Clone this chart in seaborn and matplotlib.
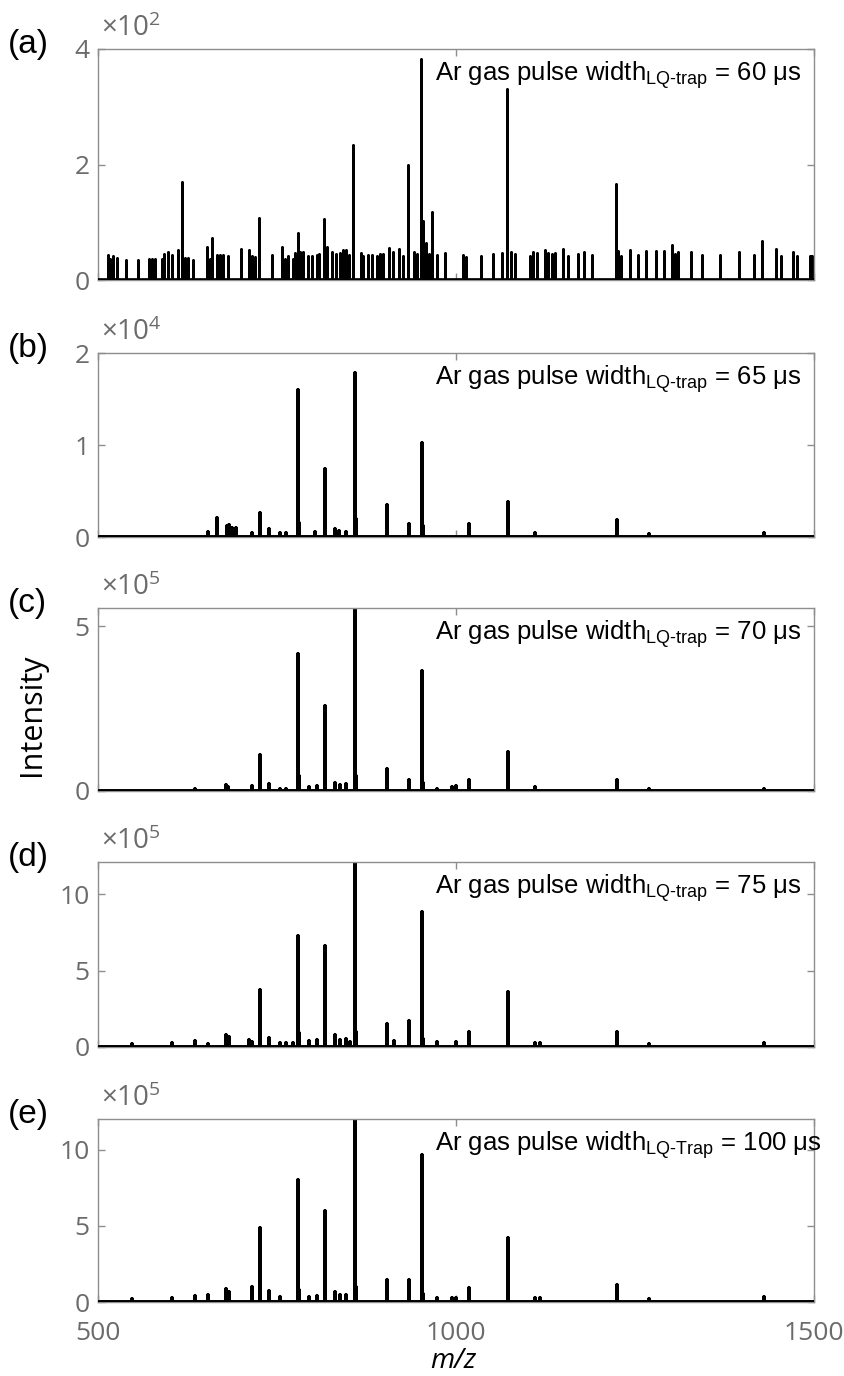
import matplotlib
matplotlib.use("Agg")
import matplotlib.pyplot as plt
import seaborn as sns
import pandas as pd

# ---------------- data ----------------
mz_a = [513.5, 516.8, 521.4, 526, 538.6, 555.4, 571, 575, 579, 588.9, 592.6, 598.2, 602.9, 612.2,
        617.8, 621.5, 625.2, 632.2, 651.8, 656.4, 659.7, 665.7, 670, 674, 681, 699.3, 710.9, 714.6,
        719.3, 725.3, 742.6, 757.5, 761.2, 765.8, 772.8, 775.1, 778.9, 782.1, 786.8, 792.8, 798.4,
        805.4, 808.6, 816.1, 819.3, 827.2, 831.9, 837.9, 842.6, 846.4, 851, 856.6, 866.8, 869.6,
        877.6, 882.2, 889.2, 893.9, 898.5, 906.9, 912.5, 920.9, 926.5, 933.5, 941.4, 946, 951.6,
        954.4, 958.1, 962.8, 967, 973, 984.7, 1009.4, 1014, 1034.5, 1051.2, 1064.7, 1070.8, 1076.4,
        1082.4, 1103.4, 1108, 1112.7, 1124.3, 1129, 1133.6, 1138.3, 1149.9, 1156, 1169.7, 1179.2,
        1190.4, 1222.8, 1226.6, 1230.3, 1242.8, 1253.5, 1265.2, 1279.1, 1290.8, 1302, 1305.7,
        1310.3, 1328.9, 1342.9, 1368.5, 1395, 1416, 1427.6, 1446.7, 1454.6, 1470, 1475.6, 1495.1,
        1497.9]
int_a = [0.43, 0.37, 0.42, 0.38, 0.35, 0.34, 0.37, 0.37, 0.37, 0.37, 0.45, 0.48, 0.43, 0.52,
         1.69, 0.38, 0.38, 0.35, 0.57, 0.37, 0.73, 0.43, 0.43, 0.43, 0.41, 0.53, 0.52, 0.42,
         0.39, 1.08, 0.44, 0.57, 0.37, 0.41, 0.37, 0.47, 0.82, 0.49, 0.48, 0.42, 0.41,
         0.43, 0.45, 1.06, 0.57, 0.48, 0.45, 0.47, 0.52, 0.52, 0.43, 2.33, 0.47, 0.42,
         0.43, 0.43, 0.41, 0.45, 0.45, 0.56, 0.49, 0.54, 0.42, 1.99, 0.48, 0.45, 3.83,
         1.03, 0.64, 0.45, 1.17, 0.43, 0.47, 0.44, 0.39, 0.42, 0.45, 0.46, 3.31, 0.48,
         0.45, 0.42, 0.48, 0.47, 0.52, 0.47, 0.45, 0.47, 0.54, 0.42, 0.45, 0.48,
         0.43, 1.66, 0.51, 0.42, 0.52, 0.43, 0.50, 0.51, 0.51, 0.61, 0.45,
         0.48, 0.48, 0.43, 0.44, 0.49, 0.44, 0.68, 0.53, 0.41, 0.49, 0.42, 0.42,
         0.42]

mz_b = [654, 665.8, 680, 683, 687, 692.5, 714.6, 726, 739, 753.6, 763, 779.6, 781, 803.6, 817.3,
        831.6, 836.8, 846.6, 858.3, 860, 903.8, 934.3, 952.5, 954, 1018.2, 1072.2, 1111, 1225,
        1270, 1429.8]
int_b = [0.05, 0.21, 0.12, 0.13, 0.10, 0.10, 0.04, 0.26, 0.09, 0.04, 0.04, 1.60, 0.15, 0.05, 0.74,
         0.09, 0.06, 0.05, 1.78, 0.20, 0.35, 0.14, 1.02, 0.12, 0.14, 0.38, 0.04, 0.18,
         0.03, 0.04]

mz_c = [635, 678.8, 682, 714.6, 726.3, 739.3, 753.6, 763, 779.6, 781, 794.5, 805.6, 817.3, 831.6,
        838, 846.6, 858.3, 860, 903.8, 934.3, 952.5, 954, 973, 994, 1000.6, 1018.2, 1072.2, 1111,
        1225, 1270, 1429.8]
int_c = [0.07, 0.17, 0.12, 0.16, 1.08, 0.20, 0.07, 0.07, 4.15, 0.45, 0.12, 0.14, 2.57, 0.24,
         0.17, 0.20, 5.56, 0.45, 0.67, 0.33, 3.64, 0.25, 0.07, 0.12, 0.14, 0.33, 1.18, 0.12,
         0.33, 0.06, 0.06]

mz_d = [547.5, 602.7, 635, 654, 678.8, 683, 711, 714.6, 726.3, 739.3, 753.6, 763, 772, 779.6, 781,
        794.5, 805.6, 817.3, 831.6, 838, 846.6, 852, 858.3, 860, 903.8, 914, 934.3, 952.5, 954,
        973, 1000.6, 1018.2, 1072.2, 1111, 1118, 1225, 1270, 1429.8]
int_d = [0.17, 0.26, 0.37, 0.22, 0.76, 0.65, 0.48, 0.33, 3.74, 0.59, 0.26, 0.26, 0.26, 7.28, 0.93,
         0.39, 0.43, 6.59, 0.80, 0.43, 0.54, 0.33, 12.1, 1.0, 1.52, 0.37, 1.70, 8.8, 0.5,
         0.33, 0.33, 0.98, 3.63, 0.28, 0.26, 0.98, 0.22, 0.28]

mz_e = [547.5, 602.7, 635, 654, 678.8, 683, 714.6, 726.3, 739.3, 753.6, 779.6, 781, 794.5, 805.6,
        817.3, 831.6, 838, 846.6, 858.3, 860, 903.8, 934.3, 952.5, 954, 973, 994, 1000.6, 1018.2,
        1072.2, 1111, 1118, 1225, 1270, 1429.8]
int_e = [0.22, 0.28, 0.39, 0.48, 0.83, 0.65, 0.98, 4.85, 0.72, 0.30, 7.98, 0.8, 0.33, 0.39,
         5.98, 0.65, 0.43, 0.48, 12.0, 1.0, 1.41, 1.41, 9.65, 0.5, 0.26, 0.28, 0.28, 0.93,
         4.2, 0.26, 0.26, 1.09, 0.22, 0.33]

panel_letters = ["(a)", "(b)", "(c)", "(d)", "(e)"]
exponents = [2, 4, 5, 5, 5]
pulse_widths = [60, 65, 70, 75, 100]
subscripts = ["LQ-trap", "LQ-trap", "LQ-trap", "LQ-trap", "LQ-Trap"]
y_tops = [4.0, 2.0, 5.56, 12.1, 12.0]
y_ticks = [[0, 2, 4], [0, 1, 2], [0, 5], [0, 5, 10], [0, 5, 10]]
x_ticks = [500, 1000, 1500]

# ---------------- style ----------------
sns.set_theme(style="white")
plt.rcParams['font.family'] = ['Open Sans', 'DejaVu Sans']
plt.rcParams['mathtext.fontset'] = 'custom'
plt.rcParams['mathtext.rm'] = 'Liberation Sans'
plt.rcParams['mathtext.it'] = 'Liberation Sans:italic'

GRAY = '#6b6b6b'
SPINE = '#8e8e8e'
W, H = 844, 1376
fig = plt.figure(figsize=(W / 100, H / 100), dpi=100)

# axes boxes in pixels: (top, bottom)
boxes = [(49, 280), (353, 537), (608, 791), (862, 1047), (1119, 1302)]
left_px, right_px = 98, 814

mzs = [mz_a, mz_b, mz_c, mz_d, mz_e]
ints = [int_a, int_b, int_c, int_d, int_e]
lws = [1.9, 2.6, 2.6, 2.6, 2.6]

for i, (top, bot) in enumerate(boxes):
    ax = fig.add_axes([left_px / W, 1 - bot / H, (right_px - left_px) / W, (bot - top) / H])
    # stick spectrum path
    xs, ys = [500.0], [0.0]
    for m, h in sorted(zip(mzs[i], ints[i])):
        xs += [m, m, m]
        ys += [0.0, h, 0.0]
    xs.append(1500.0)
    ys.append(0.0)
    df = pd.DataFrame({"mz": xs, "I": ys})
    sns.lineplot(data=df, x="mz", y="I", sort=False, estimator=None, color='black',
                 lw=lws[i], ax=ax, legend=False)
    ax.axhline(0, color='black', lw=3.4, zorder=3)
    ax.set_xlim(500, 1500)
    ax.set_ylim(0, y_tops[i])
    ax.set_xticks(x_ticks)
    ax.set_yticks(y_ticks[i])
    ax.set_xlabel("")
    ax.set_ylabel("")
    for s in ax.spines.values():
        s.set_color(SPINE)
        s.set_linewidth(1.0)
        s.set_visible(True)
    ax.tick_params(direction='in', length=5, width=1, color=SPINE, labelcolor=GRAY,
                   labelsize=19, top=True, right=True, bottom=True, left=True)
    ax.tick_params(axis='y', pad=6)
    ax.tick_params(axis='x', pad=14)
    if i < 4:
        ax.set_xticklabels([])
    else:
        ax.set_xticklabels([str(t) for t in x_ticks])
    h_px = bot - top
    ax.text(0.004, 1 + 20 / h_px, r"×10$^{\mathregular{%d}}$" % exponents[i],
            transform=ax.transAxes, fontsize=20, color=GRAY,
            ha='left', va='center', family=['Open Sans', 'DejaVu Sans'])
    ax.text(0.47, 1 - 26 / h_px,
            "Ar gas pulse width$_{\\text{%s}}$ = %d μs" % (subscripts[i], pulse_widths[i]),
            transform=ax.transAxes, fontsize=18.5, color='black', ha='left', va='center',
            family=['Liberation Sans', 'DejaVu Sans'])
    fig.text(8 / W, 1 - (top - 5) / H, panel_letters[i], fontsize=24, color='black',
             ha='left', va='center', family=['Liberation Sans', 'DejaVu Sans'])

fig.text(32 / W, 1 - 715 / H, "Intensity", rotation=90, fontsize=22, color='black',
         ha='center', va='center')
fig.text(453 / W, 1 - 1361 / H, "m/z", fontsize=20, color='black', style='italic',
         ha='center', va='center')

fig.savefig("out.png", dpi=100)
